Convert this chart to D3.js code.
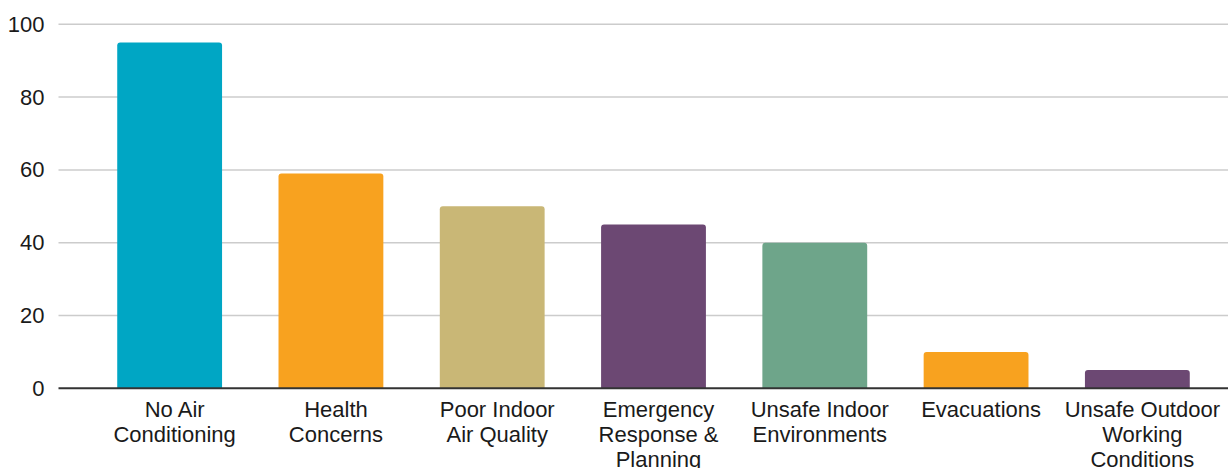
<!DOCTYPE html>
<html>
<head>
<meta charset="utf-8">
<script src="https://cdn.jsdelivr.net/npm/d3@7"></script>
<style>
  html, body { margin: 0; padding: 0; background: #fff; }
  svg { display: block; font-family: "Liberation Sans", Arial, sans-serif; }
</style>
</head>
<body>
<svg id="chart" width="1228" height="468"></svg>
<script>
// Reported concerns, count per category
const categories = [
  "No Air Conditioning",
  "Health Concerns",
  "Poor Indoor Air Quality",
  "Emergency Response & Planning",
  "Unsafe Indoor Environments",
  "Evacuations",
  "Unsafe Outdoor Working Conditions"
];
// Axis label lines for each category
const categoryLines = [
  ["No Air", "Conditioning"],
  ["Health", "Concerns"],
  ["Poor Indoor", "Air Quality"],
  ["Emergency", "Response &", "Planning"],
  ["Unsafe Indoor", "Environments"],
  ["Evacuations"],
  ["Unsafe Outdoor", "Working", "Conditions"]
];
const values = [95, 59, 50, 45, 40, 10, 5];
const barColors = ["#00a6c4", "#f8a21f", "#c9b776", "#6c4873", "#6ea58a", "#f8a21f", "#6c4873"];
const yTicks = [0, 20, 40, 60, 80, 100];

const svg = d3.select("#chart");
const gridLeft = 58.5, gridRight = 1228;
const yTop = 24.3, yBottom = 388.3;

const x = d3.scaleBand()
  .domain(categories)
  .range([89, 1218])
  .paddingInner(0.35)
  .paddingOuter(0.175);

const y = d3.scaleLinear().domain([0, 100]).range([yBottom, yTop]);

// Horizontal gridlines
svg.append("g")
  .selectAll("line")
  .data(yTicks.filter(d => d !== 0))
  .join("line")
  .attr("x1", gridLeft).attr("x2", gridRight)
  .attr("y1", d => y(d)).attr("y2", d => y(d))
  .attr("stroke", "#cccccc")
  .attr("stroke-width", 1.5);

// Y axis tick labels
const yAxis = d3.axisLeft(y).tickValues(yTicks).tickSize(0).tickPadding(14);
const yg = svg.append("g").attr("transform", `translate(${gridLeft},0)`).call(yAxis);
yg.select(".domain").remove();
yg.selectAll("text")
  .attr("font-size", 22)
  .attr("font-family", "Liberation Sans, Arial, sans-serif")
  .attr("fill", "#1a1a1a");

// Bars with slightly rounded tops
const r = 3;
function barPath(d, i) {
  const x0 = x(categories[i]), w = x.bandwidth();
  const top = y(d), bottom = y(0);
  const rr = Math.min(r, (bottom - top) / 2);
  return `M${x0},${bottom}V${top + rr}Q${x0},${top} ${x0 + rr},${top}` +
         `H${x0 + w - rr}Q${x0 + w},${top} ${x0 + w},${top + rr}V${bottom}Z`;
}
svg.append("g")
  .selectAll("path")
  .data(values)
  .join("path")
  .attr("d", barPath)
  .attr("fill", (d, i) => barColors[i]);

// Baseline
svg.append("line")
  .attr("x1", gridLeft).attr("x2", gridRight)
  .attr("y1", y(0)).attr("y2", y(0))
  .attr("stroke", "#333333")
  .attr("stroke-width", 2);

// Category labels
const labels = svg.append("g")
  .selectAll("text")
  .data(categories)
  .join("text")
  .attr("text-anchor", "middle")
  .attr("font-size", 22)
  .attr("fill", "#1a1a1a")
  .attr("transform", d => `translate(${x(d) + x.bandwidth() / 2 + 5},0)`);
labels.each(function(d, i) {
  const t = d3.select(this);
  categoryLines[i].forEach((line, j) => {
    t.append("tspan").attr("x", 0).attr("y", 417 + j * 25).text(line);
  });
});
</script>
</body>
</html>
